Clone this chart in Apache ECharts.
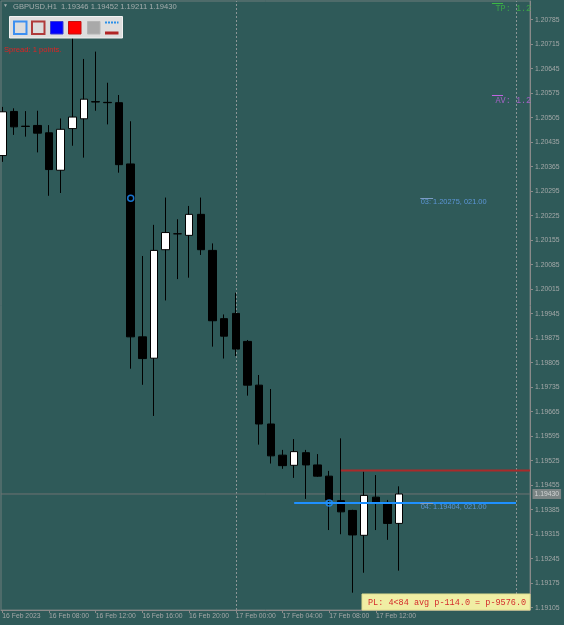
<!DOCTYPE html>
<html>
<head>
<meta charset="UTF-8">
<title>GBPUSD,H1</title>
<script src="https://cdn.jsdelivr.net/npm/echarts@6.0.0/dist/echarts.min.js"></script>
<style>
	html, body { margin: 0; padding: 0; background: #2f5a59; }
	#main { width: 564px; height: 625px; }
</style>
</head>
<body>
<div id="main"></div>

<script type="text/javascript">
	// H1 bars, 16 Feb 04:00 .. 17 Feb 14:00
	var times = ['16 Feb 04:00', '16 Feb 05:00', '16 Feb 06:00', '16 Feb 07:00', '16 Feb 08:00', '16 Feb 09:00',
		'16 Feb 10:00', '16 Feb 11:00', '16 Feb 12:00', '16 Feb 13:00', '16 Feb 14:00', '16 Feb 15:00',
		'16 Feb 16:00', '16 Feb 17:00', '16 Feb 18:00', '16 Feb 19:00', '16 Feb 20:00', '16 Feb 21:00',
		'16 Feb 22:00', '16 Feb 23:00', '17 Feb 00:00', '17 Feb 01:00', '17 Feb 02:00', '17 Feb 03:00',
		'17 Feb 04:00', '17 Feb 05:00', '17 Feb 06:00', '17 Feb 07:00', '17 Feb 08:00', '17 Feb 09:00',
		'17 Feb 10:00', '17 Feb 11:00', '17 Feb 12:00', '17 Feb 13:00', '17 Feb 14:00'];
	var opens = [1.20397, 1.20523, 1.20481, 1.20483, 1.20462, 1.20355, 1.20474, 1.20502, 1.20551, 1.20549,
		1.20548, 1.20373, 1.19879, 1.19818, 1.20128, 1.20173, 1.20169, 1.20229, 1.20126, 1.19931,
		1.19946, 1.19866, 1.19741, 1.19630, 1.19541, 1.19512, 1.19548, 1.19513, 1.19481, 1.19411,
		1.19383, 1.19312, 1.19421, 1.19406, 1.19346];
	var closes = [1.20522, 1.20479, 1.20480, 1.20461, 1.20357, 1.20472, 1.20507, 1.20558, 1.20550, 1.20548,
		1.20371, 1.19879, 1.19817, 1.20126, 1.20177, 1.20174, 1.20229, 1.20128, 1.19925, 1.19881,
		1.19844, 1.19741, 1.19630, 1.19539, 1.19511, 1.19551, 1.19513, 1.19481, 1.19413, 1.19379,
		1.19313, 1.19426, 1.19407, 1.19346, 1.19430];
	var lows = [1.20379, 1.20456, 1.20451, 1.20406, 1.20282, 1.20290, 1.20425, 1.20391, 1.20525, 1.20486,
		1.20348, 1.19788, 1.19742, 1.19653, 1.19983, 1.20044, 1.20048, 1.20113, 1.19851, 1.19817,
		1.19824, 1.19711, 1.19571, 1.19517, 1.19502, 1.19476, 1.19416, 1.19479, 1.19327, 1.19315,
		1.19148, 1.19205, 1.19327, 1.19299, 1.19211];
	var highs = [1.20536, 1.20532, 1.20524, 1.20525, 1.20484, 1.20503, 1.20790, 1.20673, 1.20694, 1.20605,
		1.20570, 1.20495, 1.20110, 1.20199, 1.20277, 1.20215, 1.20253, 1.20277, 1.20146, 1.19943,
		1.20005, 1.19870, 1.19770, 1.19730, 1.19556, 1.19587, 1.19556, 1.19544, 1.19496, 1.19589,
		1.19385, 1.19494, 1.19484, 1.19413, 1.19452];

	// axis ticks
	var timeTicks = [0, 4, 8, 12, 16, 20, 24, 28, 32];
	var timeTickLabels = ['16 Feb 2023', '16 Feb 08:00', '16 Feb 12:00', '16 Feb 16:00', '16 Feb 20:00',
		'17 Feb 00:00', '17 Feb 04:00', '17 Feb 08:00', '17 Feb 12:00'];
	var priceTicks = [1.19105, 1.19175, 1.19245, 1.19315, 1.19385, 1.19455, 1.19525, 1.19595, 1.19665,
		1.19735, 1.19805, 1.19875, 1.19945, 1.20015, 1.20085, 1.20155, 1.20225, 1.20295, 1.20365,
		1.20435, 1.20505, 1.20575, 1.20645, 1.20715, 1.20785];

	// levels / orders
	var bid = 1.19430;
	var orderBars = [11, 28];
	var orderPrices = [1.20275, 1.19404];
	var orderLabels = ['03: 1.20275, 021.00', '04: 1.19404, 021.00'];
	var order04Span = [25, 44];
	var redLevel = 1.19497;
	var redFrom = 29;
	var tpLevel = 1.20832;
	var avLevel = 1.20570;
	var separators = [20, 44];

	var xMin = -0.111, xMax = 45.2;
	var yMin = 1.1909857, yMax = 1.2083857;

	var chart = echarts.init(document.getElementById('main'));

	var candleData = times.map(function (t, i) {
		return [i, opens[i], closes[i], lows[i], highs[i]];
	});
	var last = candleData.length - 1;
	var header = 'GBPUSD,H1  ' + [opens[last], highs[last], lows[last], closes[last]].map(function (v) {
		return v.toFixed(5);
	}).join(' ');

	var axisGrey = '#8a8a8a';
	var labelFont = 'Liberation Sans';
	var noFill = 'rgba(0,0,0,0)';

	var option = {
		backgroundColor: '#2f5a59',
		animation: false,
		grid: {
			left: 1, right: 34, top: 1, bottom: 15,
			show: true, borderColor: '#6f7d7d', borderWidth: 1,
			outerBoundsMode: 'none'
		},
		xAxis: {
			type: 'value', min: xMin, max: xMax,
			axisLine: { show: true, onZero: false, lineStyle: { color: axisGrey } },
			axisTick: { show: true, length: 3, customValues: timeTicks, lineStyle: { color: axisGrey } },
			axisLabel: {
				customValues: timeTicks,
				formatter: function (v) { return timeTickLabels[timeTicks.indexOf(v)] || ''; },
				align: 'left', margin: 3, color: '#a4a8a8', fontSize: 6.8, fontFamily: labelFont
			},
			splitLine: { show: false }
		},
		yAxis: {
			type: 'value', position: 'right', min: yMin, max: yMax,
			axisLine: { show: true, onZero: false, lineStyle: { color: axisGrey } },
			axisTick: { show: true, length: 3, customValues: priceTicks, lineStyle: { color: axisGrey } },
			axisLabel: {
				customValues: priceTicks,
				formatter: function (v) { return v.toFixed(5); },
				margin: 5, color: '#a4a8a8', fontSize: 6.8, fontFamily: labelFont
			},
			splitLine: { show: false }
		},
		series: [{
			// background lines: period separators and bid line, under the bars
			type: 'line', symbol: 'none', silent: true, z: 1,
			data: [[xMin, bid], [xMax, bid]],
			lineStyle: { color: '#6e7272', width: 1 },
			markLine: {
				z: 1,
				silent: true, symbol: ['none', 'none'], label: { show: false },
				lineStyle: { type: [2, 2], color: '#8c9696', width: 1 },
				data: separators.map(function (s) { return { xAxis: s }; })
			}
		}, {
			name: 'GBPUSD',
			type: 'candlestick',
			data: candleData,
			barWidth: 8,
			z: 2,
			encode: { x: 0, y: [1, 2, 3, 4] },
			itemStyle: {
				color: '#ffffff', color0: '#000000',
				borderColor: '#000000', borderColor0: '#000000', borderWidth: 1
			}
		}, {
			// red level
			type: 'line', symbol: 'none', silent: true, z: 3,
			data: [[redFrom, redLevel], [xMax, redLevel]],
			lineStyle: { color: '#aa2a2a', width: 2 }
		}, {
			// blue order line
			type: 'line', symbol: 'none', silent: true, z: 4,
			data: [[order04Span[0], orderPrices[1]], [order04Span[1], orderPrices[1]]],
			lineStyle: { color: '#1e90ff', width: 2 }
		}, {
			// order markers
			type: 'scatter', z: 5, silent: true,
			data: orderBars.map(function (b, i) { return [b, orderPrices[i]]; }),
			symbol: 'circle', symbolSize: 6,
			itemStyle: { color: noFill, borderColor: '#1e90ff', borderWidth: 1.5 }
		}, {
			// order labels
			type: 'scatter', z: 5, silent: true,
			data: orderPrices.map(function (p) { return [35.8, p]; }),
			symbolSize: 1, itemStyle: { color: noFill },
			label: {
				show: true, position: 'right', distance: 0, offset: [0, 4],
				formatter: function (p) { return orderLabels[p.dataIndex]; },
				color: '#66a4f4', fontSize: 7.4, fontFamily: labelFont
			},
			markLine: {
				silent: true, symbol: ['none', 'none'], label: { show: false },
				lineStyle: { color: '#7c9cc4', width: 1, type: 'solid' },
				data: orderPrices.map(function (p) { return [{ coord: [35.8, p] }, { coord: [36.9, p] }]; })
			}
		}, {
			// TP / AV labels
			type: 'scatter', z: 5, silent: true,
			data: [
				{ value: [42.2, tpLevel], label: { color: '#3db844' } },
				{ value: [42.2, avLevel], label: { color: '#c064e0' } }
			],
			symbolSize: 1, itemStyle: { color: noFill },
			label: {
				show: true, position: 'right', distance: 0, offset: [0, 5.5],
				formatter: function (p) { return p.dataIndex === 0 ? 'TP: 1.2' : 'AV: 1.2'; },
				fontSize: 8.5, fontFamily: 'Liberation Mono'
			},
			markLine: {
				silent: true, symbol: ['none', 'none'], label: { show: false },
				data: [
					[{ coord: [41.94, tpLevel], lineStyle: { color: '#3db844', width: 1, type: 'solid' } }, { coord: [42.89, tpLevel] }],
					[{ coord: [41.94, avLevel], lineStyle: { color: '#c064e0', width: 1, type: 'solid' } }, { coord: [42.89, avLevel] }]
				]
			}
		}, {
			// bid price box on the axis
			type: 'scatter', z: 6, silent: true,
			data: [[xMax, bid]],
			symbolSize: 1, itemStyle: { color: noFill },
			label: {
				show: true, position: 'right', distance: 2,
				formatter: function () { return bid.toFixed(5); },
				backgroundColor: '#8e9090', color: '#e4e4e4', padding: [2, 2, 1, 2],
				fontSize: 6.8, fontFamily: labelFont
			}
		}],
		graphic: [
			{ type: 'text', z: 100, left: 3, top: 3, style: { text: '\u25BC', fill: '#a6aeae', font: '5px ' + labelFont } },
			{ type: 'text', z: 100, left: 13, top: 2.5, style: { text: header, fill: '#a6aeae', font: '7.6px ' + labelFont } },
			// tool panel
			{ type: 'rect', z: 100, shape: { x: 9.5, y: 16.5, width: 113, height: 21.5 }, style: { fill: '#dedede', stroke: '#f2f2f2', lineWidth: 1 } },
			{ type: 'rect', z: 101, shape: { x: 14, y: 21.5, width: 12.5, height: 12.5 }, style: { fill: '#dcdcdc', stroke: '#3d8ff0', lineWidth: 2 } },
			{ type: 'rect', z: 101, shape: { x: 32, y: 21.5, width: 12.5, height: 12.5 }, style: { fill: '#dcdcdc', stroke: '#b03a3a', lineWidth: 2 } },
			{ type: 'rect', z: 101, shape: { x: 50.5, y: 21.5, width: 12.5, height: 12.5 }, style: { fill: '#0000ff', stroke: '#3a3ad0', lineWidth: 1 } },
			{ type: 'rect', z: 101, shape: { x: 68.5, y: 21.5, width: 12.5, height: 12.5 }, style: { fill: '#ff0000', stroke: '#c01010', lineWidth: 1 } },
			{ type: 'rect', z: 101, shape: { x: 87.5, y: 21.5, width: 12.5, height: 12.5 }, style: { fill: '#a9a9a9', stroke: '#b4b4b4', lineWidth: 1 } },
			{ type: 'line', z: 101, shape: { x1: 105, y1: 22.5, x2: 118.5, y2: 22.5 }, style: { stroke: '#2a8fe8', lineWidth: 2, lineDash: [2, 1] } },
			{ type: 'line', z: 101, shape: { x1: 105, y1: 33, x2: 118.5, y2: 33 }, style: { stroke: '#b02424', lineWidth: 3 } },
			{ type: 'text', z: 100, left: 4, top: 45.5, style: { text: 'Spread: 1 points.', fill: '#e02222', font: '7.6px ' + labelFont } },
			// PL box
			{ type: 'rect', z: 100, shape: { x: 362, y: 594, width: 168, height: 16 }, style: { fill: '#f0eea4', stroke: '#e0de90', lineWidth: 1 } },
			{ type: 'text', z: 101, x: 368, y: 602.5, style: { text: 'PL: 4<84 avg p-114.0 = p-9576.0', fill: '#d42c2c', font: '8.5px Liberation Mono', verticalAlign: 'middle' } }
		]
	};

	chart.setOption(option, true);
</script>
</body>
</html>
